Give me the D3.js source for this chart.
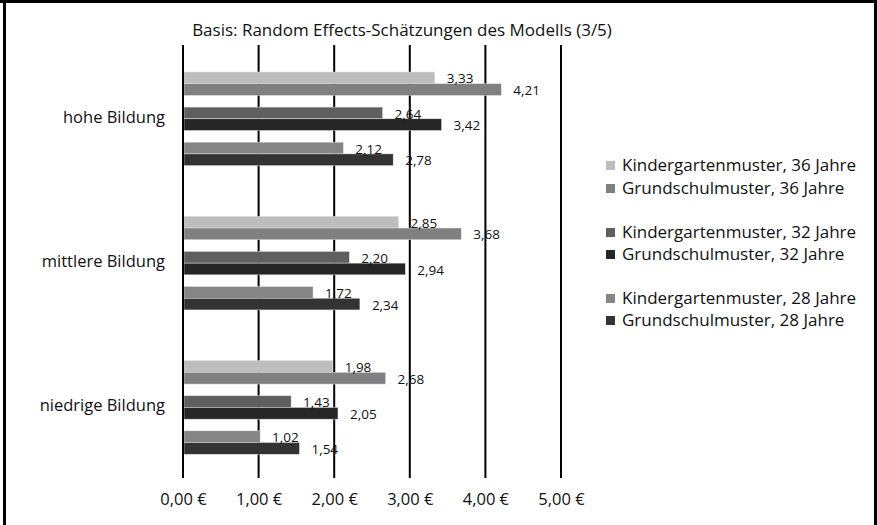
<!DOCTYPE html>
<html><head><meta charset="utf-8">
<script src="https://cdn.jsdelivr.net/npm/d3@7"></script>
<style>body{margin:0;background:#fff}svg{display:block;font-family:"Open Sans",sans-serif}</style>
</head><body><svg id="c" width="877" height="525"></svg>
<script>
const title = "Basis: Random Effects-Schätzungen des Modells (3/5)";
const categories = ["hohe Bildung", "mittlere Bildung", "niedrige Bildung"];
const seriesNames = ["Kindergartenmuster, 36 Jahre","Grundschulmuster, 36 Jahre","Kindergartenmuster, 32 Jahre","Grundschulmuster, 32 Jahre","Kindergartenmuster, 28 Jahre","Grundschulmuster, 28 Jahre"];
const seriesColors = ["#bdbdbd","#808080","#5f5f5f","#262626","#858585","#333333"];
const kinder36 = [3.33, 2.85, 1.98];
const grund36  = [4.21, 3.68, 2.68];
const kinder32 = [2.64, 2.20, 1.43];
const grund32  = [3.42, 2.94, 2.05];
const kinder28 = [2.12, 1.72, 1.02];
const grund28  = [2.78, 2.34, 1.54];
const tickValues = [0,1,2,3,4,5];
const seriesValues = [kinder36, grund36, kinder32, grund32, kinder28, grund28];

const svg = d3.select("#c");
const fmt = v => v.toFixed(2).replace(".", ",");
const x = d3.scaleLinear().domain([0,5]).range([183, 561]);
const y = d3.scaleBand().domain(categories).range([45, 478]);
const slots = ["s0","s1","g1","s2","s3","g2","s4","s5"];
const yi = d3.scaleBand().domain(slots).range([27, 27 + 8*11.7]);
const slotIdx = [0,1,3,4,6,7];

// frame
svg.append("line").attr("x1",4.5).attr("x2",4.5).attr("y1",0).attr("y2",525).attr("stroke","#000").attr("stroke-width",3);
svg.append("line").attr("x1",875.5).attr("x2",875.5).attr("y1",0).attr("y2",525).attr("stroke","#000").attr("stroke-width",3);
svg.append("line").attr("x1",0).attr("x2",877).attr("y1",1.5).attr("y2",1.5).attr("stroke","#000").attr("stroke-width",3);

svg.append("text").attr("x",402).attr("y",36).attr("text-anchor","middle").attr("font-size",17).attr("fill","#111").text(title);

// gridlines
svg.append("g").selectAll("line").data(tickValues).join("line")
  .attr("x1", d=>x(d)).attr("x2", d=>x(d)).attr("y1",45).attr("y2",478)
  .attr("stroke","#000").attr("stroke-width",2);

// x-axis labels
const ax = svg.append("g").attr("transform","translate(0,490)")
  .call(d3.axisBottom(x).tickValues(tickValues).tickSize(0).tickFormat(d=>fmt(d)+" €"));
ax.select(".domain").remove();
ax.selectAll("text").attr("font-size",16.5).attr("fill","#111").attr("font-family","'Open Sans',sans-serif").attr("dy","0.71em");

// category labels
svg.append("g").selectAll("text").data(categories).join("text")
  .attr("x",165).attr("y", d=>y(d)+y.bandwidth()/2+1).attr("text-anchor","end")
  .attr("dominant-baseline","middle").attr("font-size",16.5).attr("fill","#111").text(d=>d);

// bars
const data = [];
seriesValues.forEach((vals, si) => vals.forEach((v, ci) => data.push({si, cat: categories[ci], v})));
const yb = d=> y(d.cat) + yi(slots[slotIdx[d.si]]);
svg.append("g").selectAll("rect").data(data).join("rect")
  .attr("x", x(0)+1).attr("y", yb).attr("width", d=>x(d.v)-x(0)-1).attr("height", yi.bandwidth())
  .attr("fill", d=>seriesColors[d.si]).attr("stroke","#e0e0e0").attr("stroke-width",0.5);
svg.append("line").attr("x1",x(0)).attr("x2",x(0)).attr("y1",45).attr("y2",478).attr("stroke","#000").attr("stroke-width",2);

svg.append("g").selectAll("text").data(data).join("text")
  .attr("x", d=>x(d.v)+12).attr("y", d=>yb(d)+yi.bandwidth()/2+2)
  .attr("dominant-baseline","middle").attr("font-size",13.5).attr("fill","#111").text(d=>fmt(d.v));

// legend
const legY = [166,189,233,255,299,321];
const lg = svg.append("g").selectAll("g").data(seriesNames).join("g")
  .attr("transform",(d,i)=>`translate(606,${legY[i]})`);
lg.append("rect").attr("x",0).attr("y",-5).attr("width",9).attr("height",9).attr("fill",(d,i)=>seriesColors[i]);
lg.append("text").attr("x",16).attr("y",0).attr("dominant-baseline","middle").attr("font-size",17).attr("fill","#111").text(d=>d);
</script></body></html>
